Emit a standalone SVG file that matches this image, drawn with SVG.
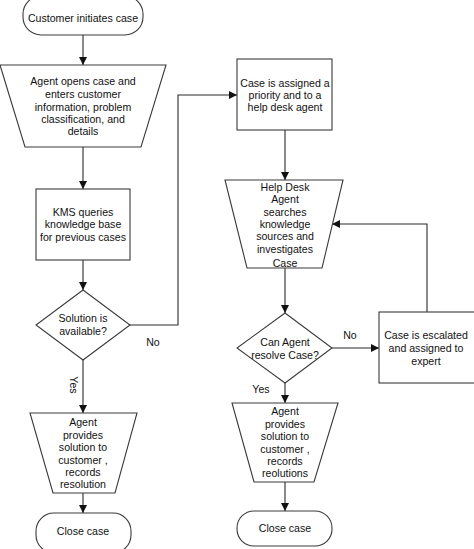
<svg xmlns="http://www.w3.org/2000/svg" width="474" height="549" viewBox="0 0 474 549">
<style>
.s{fill:#fff;stroke:#3a3a3a;stroke-width:1.1}
.c{fill:none;stroke:#2a2a2a;stroke-width:1.1}
text{font-family:"Liberation Sans",Arial,sans-serif;font-size:10.6px;fill:#111;text-anchor:middle}
</style>
<defs>
<marker id="a" viewBox="0 0 10 10" refX="10" refY="5" markerWidth="8" markerHeight="8" markerUnits="userSpaceOnUse" orient="auto">
<path d="M0,0 L10,5 L0,10 z" fill="#111"/>
</marker>
</defs>
<rect width="474" height="549" fill="#fff"/>
<g id="connectors">
<path class="c" d="M83,35 V65" marker-end="url(#a)"/>
<path class="c" d="M83,147 V189" marker-end="url(#a)"/>
<path class="c" d="M83,260 V290" marker-end="url(#a)"/>
<path class="c" d="M130,325 H178 V95 H237" marker-end="url(#a)"/>
<path class="c" d="M83,360 V413" marker-end="url(#a)"/>
<path class="c" d="M83,493 V513" marker-end="url(#a)"/>
<path class="c" d="M285,130 V180" marker-end="url(#a)"/>
<path class="c" d="M285,268 V313" marker-end="url(#a)"/>
<path class="c" d="M332,348 H379" marker-end="url(#a)"/>
<path class="c" d="M427,312 V224 H332" marker-end="url(#a)"/>
<path class="c" d="M285,383 V403" marker-end="url(#a)"/>
<path class="c" d="M285,482 V511" marker-end="url(#a)"/>
<text x="153" y="346">No</text>
<text transform="translate(70,385) rotate(90)">Yes</text>
<text x="350" y="339">No</text>
<text x="261" y="393">Yes</text>
</g>
<g id="start">
<rect class="s" x="23" y="-4" width="120" height="39" rx="18" ry="18"/>
<text x="83" y="22">Customer initiates case</text>
</g>
<g id="open-case">
<path class="s" d="M0,65 H166 L141,147 H25 Z"/>
<text x="83" y="85">Agent opens case and</text>
<text x="83" y="98">enters customer</text>
<text x="83" y="111">information, problem</text>
<text x="83" y="123">classification, and</text>
<text x="83" y="135">details</text>
</g>
<g id="kms">
<rect class="s" x="36" y="189" width="94" height="71"/>
<text x="83" y="216">KMS queries</text>
<text x="83" y="228">knowledge base</text>
<text x="83" y="241">for previous cases</text>
</g>
<g id="solution">
<path class="s" d="M83,290 L130,325 L83,360 L36,325 Z"/>
<text x="83" y="322">Solution is</text>
<text x="83" y="335">available?</text>
</g>
<g id="provide-left">
<path class="s" d="M30,413 H137 L115,493 H53 Z"/>
<text x="83" y="426">Agent</text>
<text x="83" y="439">provides</text>
<text x="83" y="451">solution to</text>
<text x="83" y="464">customer ,</text>
<text x="83" y="476">records</text>
<text x="83" y="488">resolution</text>
</g>
<g id="close-left">
<rect class="s" x="36" y="513" width="95" height="40" rx="18" ry="18"/>
<text x="83" y="535">Close case</text>
</g>
<g id="assigned">
<rect class="s" x="237" y="59" width="95" height="71"/>
<text x="285" y="87">Case is assigned a</text>
<text x="285" y="99">priority and to a</text>
<text x="285" y="111">help desk agent</text>
</g>
<g id="search">
<path class="s" d="M225,180 H343 L322,268 H247 Z"/>
<text x="285" y="191">Help Desk</text>
<text x="285" y="203">Agent</text>
<text x="285" y="216">searches</text>
<text x="285" y="228">knowledge</text>
<text x="285" y="240">sources and</text>
<text x="285" y="253">investigates</text>
<text x="285" y="267">Case</text>
</g>
<g id="resolve">
<path class="s" d="M285,313 L332,348 L285,383 L237,348 Z"/>
<text x="285" y="346">Can Agent</text>
<text x="285" y="359">resolve Case?</text>
</g>
<g id="escalated">
<rect class="s" x="379" y="312" width="97" height="71"/>
<text x="426" y="339">Case is escalated</text>
<text x="426" y="352">and assigned to</text>
<text x="426" y="365">expert</text>
</g>
<g id="provide-right">
<path class="s" d="M232,403 H338 L314,482 H254 Z"/>
<text x="285" y="415">Agent</text>
<text x="285" y="428">provides</text>
<text x="285" y="440">solution to</text>
<text x="285" y="453">customer ,</text>
<text x="285" y="465">records</text>
<text x="285" y="477">reolutions</text>
</g>
<g id="close-right">
<rect class="s" x="237" y="511" width="95" height="35" rx="17" ry="17"/>
<text x="285" y="532">Close case</text>
</g>
</svg>
